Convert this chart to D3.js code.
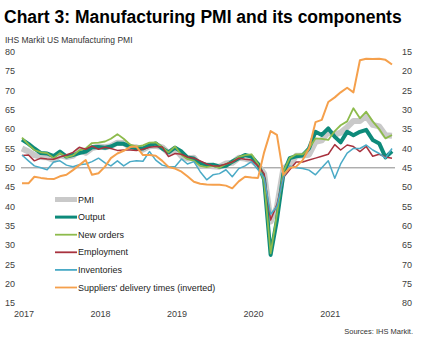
<!DOCTYPE html>
<html>
<head>
<meta charset="utf-8">
<script src="https://cdn.jsdelivr.net/npm/d3@7/dist/d3.min.js"></script>
<style>
  body { margin: 0; background: #fff; }
  svg { display: block; font-family: "Liberation Sans", Arial, sans-serif; }
</style>
</head>
<body>
<svg width="424" height="345"></svg>
<script>
// monthly, Jan 2017 - Nov 2021
const months = d3.timeMonth.range(new Date(2017, 0, 1), new Date(2021, 11, 1));
const yearTicks = [2017, 2018, 2019, 2020, 2021];
const leftTicks = [15, 20, 25, 30, 35, 40, 45, 50, 55, 60, 65, 70, 75, 80];
const rightTicks = [15, 20, 25, 30, 35, 40, 45, 50, 55, 60, 65, 70, 75, 80];

const pmi = [
  55.0, 54.2, 53.3, 52.8, 52.7, 52.0, 53.3, 52.8, 53.1, 54.6, 53.9, 55.1,
  55.5, 55.3, 55.6, 56.5, 56.4, 55.4, 55.3, 54.7, 55.6, 55.7, 55.3, 53.8,
  54.9, 53.0, 52.4, 52.6, 50.5, 50.6, 50.4, 50.3, 51.1, 51.3, 52.6, 52.4,
  51.9, 50.7, 48.5, 36.1, 39.8, 49.8, 50.9, 53.1, 53.2, 53.4, 56.7, 57.1,
  59.2, 58.6, 59.1, 60.5, 62.1, 62.1, 63.4, 61.1, 60.7, 58.4, 58.3];
const output = [
  57.3, 56.2, 55.0, 53.8, 53.7, 53.0, 54.2, 52.9, 53.3, 53.8, 54.2, 55.3,
  55.4, 55.2, 55.5, 56.3, 56.2, 55.5, 55.0, 55.0, 55.8, 56.3, 55.0, 54.0,
  55.2, 54.2, 52.7, 52.4, 51.3, 50.7, 50.8, 50.3, 50.5, 51.6, 52.5, 53.3,
  52.9, 51.0, 47.0, 27.5, 36.5, 48.5, 52.5, 53.0, 53.2, 55.0, 59.3, 58.5,
  60.2, 58.0, 56.6, 59.3, 58.4, 59.3, 59.8, 57.2, 56.3, 52.7, 54.3];
const newOrders = [
  57.8, 56.0, 54.6, 54.0, 53.8, 52.5, 53.8, 52.7, 53.2, 54.5, 55.0, 56.4,
  56.5, 56.8, 57.5, 58.7, 57.5, 56.0, 55.5, 55.8, 56.5, 56.6, 55.3, 54.0,
  55.5, 53.3, 52.3, 51.8, 50.5, 50.2, 50.5, 50.0, 51.0, 51.5, 52.8, 53.3,
  53.5, 51.0, 46.5, 27.9, 38.0, 49.0, 52.5, 53.5, 53.5, 55.0, 57.6, 57.5,
  57.2, 59.5, 61.0, 62.0, 65.4, 62.8, 64.5, 62.0, 60.0, 57.6, 58.5];
const employment = [
  53.2, 53.3, 51.8, 52.5, 52.3, 52.2, 52.8, 53.3, 54.0, 55.3, 54.8, 55.6,
  54.8, 55.3, 55.0, 54.5, 54.6, 54.6, 54.5, 54.8, 55.3, 55.5, 55.4, 52.9,
  53.7, 53.5, 52.8, 52.5, 51.8, 51.0, 50.5, 50.5, 51.0, 51.5, 52.5, 52.2,
  52.0, 50.5, 48.5, 36.5, 40.5, 47.5, 49.5, 51.5, 51.5, 52.0, 52.5, 53.0,
  53.5, 56.0, 54.6, 55.9, 55.5, 54.2, 55.5, 53.0, 53.5, 52.8, 52.5];
const inventories = [
  53.3, 51.8, 50.5, 50.0, 49.5, 51.5, 51.8, 50.7, 50.3, 50.8, 51.0, 51.6,
  52.5, 51.3, 50.5, 51.8, 50.5, 51.6, 51.8, 51.7, 54.2, 52.0, 50.7, 50.3,
  50.3, 52.3, 51.0, 51.6, 49.0, 46.9, 48.2, 48.5, 49.5, 47.7, 49.8, 50.5,
  51.6, 49.5, 47.5, 38.0, 40.0, 47.5, 50.5, 50.0, 49.8, 49.4, 48.2, 50.0,
  51.8, 47.3, 51.0, 53.8, 55.0, 55.0, 55.9, 54.6, 53.7, 52.5, 55.0];
// suppliers' delivery times, plotted on the inverted right axis
const deliveryTimes = [
  49.0, 49.0, 47.3, 47.6, 47.8, 47.9, 47.2, 46.8, 45.6, 44.3, 43.0, 46.8,
  46.4, 44.7, 42.5, 41.3, 40.6, 39.6, 39.5, 41.7, 41.7, 41.9, 43.2, 44.8,
  45.2, 46.0, 47.2, 48.6, 49.1, 49.3, 49.4, 49.4, 49.6, 50.3, 48.5, 47.3,
  47.5, 47.6, 41.0, 35.5, 36.5, 46.8, 45.0, 44.7, 43.0, 40.0, 33.2, 32.6,
  28.0, 26.8, 25.5, 24.3, 25.5, 17.2, 16.8, 16.9, 16.8, 17.1, 18.3];

const series = [
  {name: 'PMI', values: pmi, color: '#c9c9c9', width: 6, axis: 'left'},
  {name: 'Output', values: output, color: '#0d8a7a', width: 4, axis: 'left'},
  {name: 'New orders', values: newOrders, color: '#8dbb4c', width: 1.8, axis: 'left'},
  {name: 'Employment', values: employment, color: '#a8323e', width: 1.5, axis: 'left'},
  {name: 'Inventories', values: inventories, color: '#4aaac6', width: 1.5, axis: 'left'},
  {name: "Suppliers' delivery times (inverted)", values: deliveryTimes, color: '#f5a04c', width: 2, axis: 'right'}
];

const svg = d3.select('svg');

const x = d3.scaleTime()
  .domain([months[0], months[months.length - 1]])
  .range([22, 392]);
const yLeft = d3.scaleLinear().domain([15, 80]).range([303.3, 51.7]);
const yRight = d3.scaleLinear().domain([15, 80]).range([51.7, 303.3]);

// title
svg.append('text')
  .attr('x', 4).attr('y', 23)
  .style('font-size', '17.5px').style('font-weight', 'bold').attr('fill', '#000')
  .text('Chart 3: Manufacturing PMI and its components');

svg.append('text')
  .attr('x', 5).attr('y', 43)
  .style('font-size', '8.5px').attr('fill', '#333')
  .text('IHS Markit US Manufacturing  PMI');

// tick labels
svg.append('g').selectAll('text')
  .data(leftTicks)
  .join('text')
  .attr('x', 5).attr('y', d => yLeft(d)).attr('dy', '0.35em')
  .style('font-size', '9px').attr('fill', '#404040')
  .text(d => d);

svg.append('g').selectAll('text')
  .data(rightTicks)
  .join('text')
  .attr('x', 402).attr('y', d => yRight(d)).attr('dy', '0.35em')
  .style('font-size', '9px').attr('fill', '#404040')
  .text(d => d);

svg.append('g').selectAll('text')
  .data(yearTicks)
  .join('text')
  .attr('x', d => x(new Date(d, 0, 1)) + 2).attr('y', 313.5).attr('dy', '0.35em')
  .attr('text-anchor', 'middle')
  .style('font-size', '9px').attr('fill', '#404040')
  .text(d => d);

// 50 line
svg.append('line')
  .attr('x1', 21).attr('x2', 395)
  .attr('y1', yLeft(50)).attr('y2', yLeft(50))
  .attr('stroke', '#8a8a8a').attr('stroke-width', 1);

// lines
series.forEach(s => {
  let yScale = s.axis == 'left' ? yLeft : yRight;
  let line = d3.line()
    .x((d, i) => x(months[i]))
    .y(d => yScale(d));
  svg.append('path')
    .datum(s.values)
    .attr('fill', 'none')
    .attr('stroke', s.color)
    .attr('stroke-width', s.width)
    .attr('stroke-linejoin', 'round')
    .attr('d', line);
});

// legend
let legend = svg.append('g')
  .selectAll('g')
  .data(series)
  .join('g')
  .attr('transform', (d, i) => `translate(55,${199.5 + i * 17.6})`);
legend.append('line')
  .attr('x1', 0).attr('x2', 22)
  .attr('stroke', d => d.color)
  .attr('stroke-width', d => Math.max(d.width - 1, 1.8));
legend.append('text')
  .attr('x', 23).attr('dy', '0.35em')
  .style('font-size', '9px').attr('fill', '#222')
  .text(d => d.name);

svg.append('text')
  .attr('x', 413).attr('y', 334)
  .attr('text-anchor', 'end')
  .style('font-size', '7.5px').attr('fill', '#333')
  .text('Sources: IHS Markit.');
</script>
</body>
</html>
